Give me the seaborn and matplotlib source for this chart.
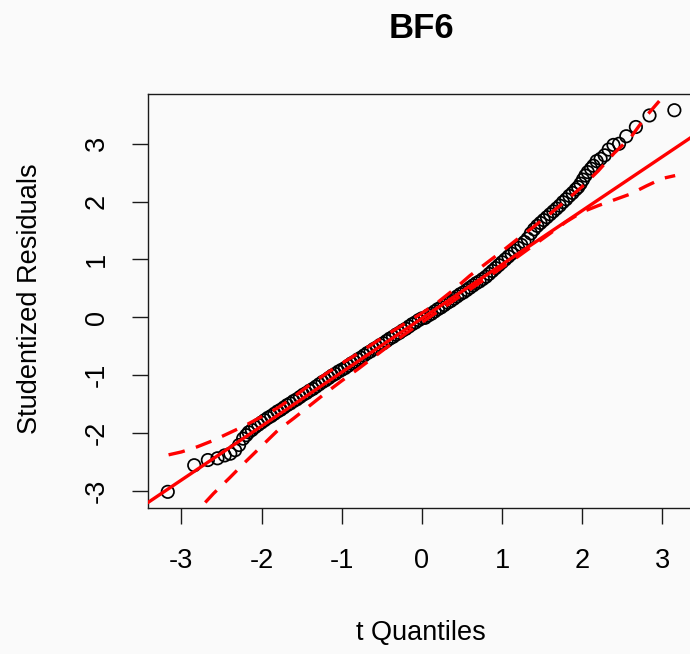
"""Q-Q plot of studentized residuals (BF6) with simulated envelope."""

import matplotlib

matplotlib.use("Agg")
import matplotlib.pyplot as plt
import pandas as pd
import seaborn as sns

# ── Data ────────────────────────────────────────────────────────────────────
# reference line (robust fit through the quartiles)
LINE_INTERCEPT = -0.02
LINE_SLOPE = 0.932

# lower tail, individual points
lower_q = [-3.17, -2.84, -2.67, -2.55, -2.46, -2.39, -2.33, -2.28, -2.23, -2.19]
lower_r = [-3.02, -2.56, -2.47, -2.44, -2.39, -2.36, -2.30, -2.21, -2.10, -2.04]

# dense middle band
band_q = [
    -2.16, -2.12, -2.08, -2.04, -2.00, -1.96, -1.92, -1.88, -1.84, -1.80,
    -1.76, -1.72, -1.68, -1.64, -1.60, -1.56, -1.52, -1.48, -1.44, -1.40,
    -1.36, -1.32, -1.28, -1.24, -1.20, -1.16, -1.12, -1.08, -1.04, -1.00,
    -0.96, -0.92, -0.88, -0.84, -0.80, -0.76, -0.72, -0.68, -0.64, -0.60,
    -0.56, -0.52, -0.48, -0.44, -0.40, -0.36, -0.32, -0.28, -0.24, -0.20,
    -0.16, -0.12, -0.08, -0.04, 0.00, 0.04, 0.08, 0.12, 0.16, 0.20,
    0.24, 0.28, 0.32, 0.36, 0.40, 0.44, 0.48, 0.52, 0.56, 0.60,
    0.64, 0.68, 0.72, 0.76, 0.80, 0.84, 0.88, 0.92, 0.96, 1.00,
    1.04, 1.08, 1.12, 1.16, 1.20, 1.24, 1.28, 1.32, 1.36, 1.40,
    1.44, 1.48, 1.52, 1.56, 1.60, 1.64, 1.68, 1.72, 1.76, 1.80,
    1.84, 1.88,
]
band_r = [
    -1.99, -1.95, -1.90, -1.86, -1.82, -1.78, -1.74, -1.71, -1.67, -1.63,
    -1.60, -1.56, -1.52, -1.49, -1.45, -1.42, -1.38, -1.34, -1.31, -1.27,
    -1.24, -1.20, -1.16, -1.12, -1.09, -1.05, -1.01, -0.98, -0.94, -0.91,
    -0.88, -0.84, -0.80, -0.77, -0.73, -0.70, -0.66, -0.62, -0.59, -0.55,
    -0.52, -0.48, -0.45, -0.41, -0.37, -0.34, -0.30, -0.27, -0.23, -0.20,
    -0.16, -0.12, -0.09, -0.05, -0.02, -0.01, 0.03, 0.06, 0.10, 0.14,
    0.17, 0.21, 0.25, 0.28, 0.32, 0.36, 0.40, 0.43, 0.47, 0.51,
    0.55, 0.59, 0.62, 0.66, 0.70, 0.75, 0.80, 0.85, 0.90, 0.95,
    1.00, 1.05, 1.10, 1.15, 1.20, 1.25, 1.30, 1.36, 1.45, 1.52,
    1.58, 1.63, 1.68, 1.73, 1.78, 1.83, 1.88, 1.93, 1.99, 2.04,
    2.10, 2.15,
]

# upper tail, individual points
upper_q = [1.92, 1.95, 1.98, 2.01, 2.04, 2.07, 2.11, 2.14, 2.18,
           2.23, 2.28, 2.33, 2.39, 2.46, 2.55, 2.67, 2.84, 3.15]
upper_r = [2.21, 2.25, 2.31, 2.38, 2.45, 2.51, 2.57, 2.62, 2.70,
           2.74, 2.80, 2.90, 2.98, 3.00, 3.13, 3.29, 3.49, 3.58]

# simulated 95% envelope
env_q = [-3.16, -3.0, -2.8, -2.6, -2.4, -2.2, -2.0, -1.8, -1.6, -1.4, -1.2,
         -1.0, -0.8, -0.6, -0.4, -0.2, 0.0, 0.2, 0.4, 0.6, 0.8, 1.0, 1.2,
         1.4, 1.6, 1.8, 2.0, 2.2, 2.4, 2.6, 2.8, 3.0, 3.16]
env_upper = [-2.38, -2.33, -2.24, -2.13, -2.00, -1.87, -1.72, -1.57, -1.38,
             -1.17, -0.98, -0.80, -0.63, -0.45, -0.27, -0.10, 0.07, 0.26,
             0.48, 0.72, 0.93, 1.14, 1.36, 1.57, 1.79, 2.02, 2.26, 2.53,
             2.84, 3.10, 3.48, 3.80, 4.20]
env_lower = [-3.95, -3.65, -3.35, -3.05, -2.78, -2.50, -2.23, -1.96, -1.75,
             -1.53, -1.31, -1.10, -0.90, -0.69, -0.48, -0.28, -0.09, 0.10,
             0.29, 0.48, 0.67, 0.86, 1.05, 1.25, 1.45, 1.65, 1.82, 1.93,
             2.03, 2.13, 2.27, 2.40, 2.45]

x_ticks = [-3, -2, -1, 0, 1, 2, 3]
y_ticks = [-3, -2, -1, 0, 1, 2, 3]

# ── Style ───────────────────────────────────────────────────────────────────
BG = "#fafafa"
RED = "#ff0000"
INK = "#1a1a1a"
FS = 19.5

sns.set_theme(style="ticks")
plt.rcParams["font.family"] = ["Liberation Sans", "DejaVu Sans"]
plt.rcParams["text.color"] = "black"

fig = plt.figure(figsize=(6.9, 6.54), dpi=100, facecolor=BG)
# the right edge of the box falls just outside the picture, as in the source
ax = fig.add_axes([0.2141, 0.2232, 0.7946, 0.633])
ax.set_facecolor(BG)

points = pd.DataFrame({
    "q": lower_q + band_q + upper_q,
    "r": lower_r + band_r + upper_r,
})
sns.scatterplot(data=points, x="q", y="r", ax=ax, marker="o", s=80,
                facecolor="none", edgecolor="black", linewidth=1.25,
                zorder=2, legend=False)

ax.axline((0, LINE_INTERCEPT), slope=LINE_SLOPE, color=RED, lw=2.4, zorder=3)
envelope = pd.DataFrame({"q": env_q, "upper": env_upper, "lower": env_lower})
for col in ("upper", "lower"):
    sns.lineplot(data=envelope, x="q", y=col, ax=ax, color=RED, lw=2.4,
                 linestyle=(0, (5, 3.5)), estimator=None, sort=False,
                 zorder=3)

ax.set_xlim(-3.42, 3.42)
ax.set_ylim(-3.30, 3.86)
ax.set_xticks(x_ticks)
ax.set_yticks(y_ticks)
ax.set_xticklabels([str(t) for t in x_ticks])
ax.set_yticklabels([str(t) for t in y_ticks], rotation=90, va="center")
ax.set_xlabel("")
ax.set_ylabel("")
ax.tick_params(axis="both", direction="out", length=11.5, width=1.0,
               colors=INK, labelsize=FS, labelcolor="black")
ax.tick_params(axis="x", pad=17)
ax.tick_params(axis="y", pad=16)
for side in ("left", "right", "top", "bottom"):
    ax.spines[side].set_visible(True)
    ax.spines[side].set_color(INK)
    ax.spines[side].set_linewidth(1.0)

W, H = 690, 654
fig.text(421 / W, 1 - 28 / H, "BF6", ha="center", va="center",
         fontsize=25, fontweight="bold", color="black")
fig.text(421 / W, 1 - 633 / H, "t Quantiles", ha="center", va="center",
         fontsize=FS, color="black")
fig.text(30 / W, 1 - 299 / H, "Studentized Residuals", ha="center",
         va="center", rotation=90, fontsize=FS, color="black")

fig.savefig("out.png", dpi=100, facecolor=BG)
